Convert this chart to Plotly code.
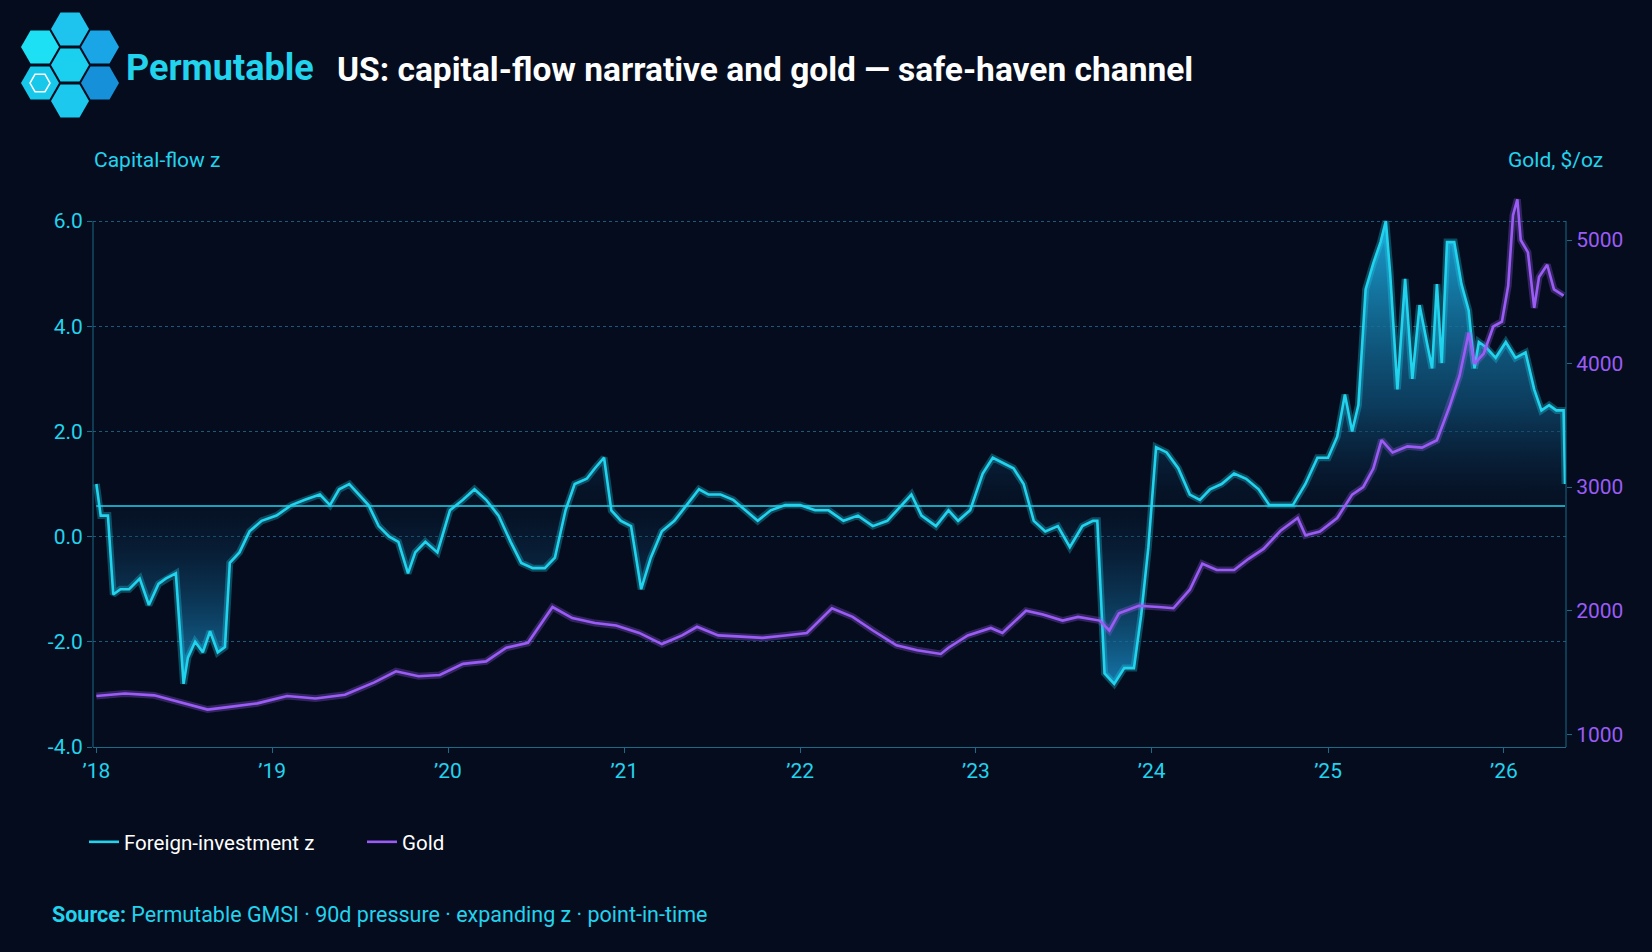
import plotly.graph_objects as go
import math

z_dates = ["2018-01-01","2018-01-10","2018-01-25","2018-02-05","2018-02-20","2018-03-10","2018-04-01","2018-04-20","2018-05-10","2018-05-25","2018-06-15","2018-07-01","2018-07-10","2018-07-25","2018-08-10","2018-08-25","2018-09-10","2018-09-25","2018-10-05","2018-10-25","2018-11-15","2018-12-10",
"2019-01-10","2019-02-10","2019-03-10","2019-04-10","2019-05-01","2019-05-20","2019-06-10","2019-07-01","2019-07-20","2019-08-10","2019-09-01","2019-09-20","2019-10-10","2019-10-25","2019-11-15","2019-12-10",
"2020-01-05","2020-02-01","2020-02-25","2020-03-20","2020-04-15","2020-05-10","2020-06-01","2020-06-25","2020-07-20","2020-08-10","2020-09-01","2020-09-20","2020-10-15","2020-11-01","2020-11-20","2020-12-05","2020-12-25",
"2021-01-15","2021-02-05","2021-02-25","2021-03-20","2021-04-15","2021-05-10","2021-06-05","2021-06-25","2021-07-20","2021-08-15","2021-09-10","2021-10-05","2021-11-01","2021-12-01",
"2022-01-01","2022-02-01","2022-03-01","2022-04-01","2022-05-01","2022-06-01","2022-07-01","2022-08-01","2022-08-20","2022-09-10","2022-10-10","2022-11-05","2022-11-25","2022-12-20",
"2023-01-15","2023-02-05","2023-02-25","2023-03-20","2023-04-10","2023-05-01","2023-05-25","2023-06-20","2023-07-15","2023-08-10","2023-09-01","2023-09-10","2023-09-25","2023-10-15","2023-11-05","2023-11-25","2023-12-10","2023-12-25",
"2024-01-10","2024-02-01","2024-02-25","2024-03-20","2024-04-10","2024-05-01","2024-05-25","2024-06-20","2024-07-15","2024-08-10","2024-09-01","2024-09-25","2024-10-20","2024-11-15","2024-12-10",
"2025-01-01","2025-01-20","2025-02-05","2025-02-20","2025-03-05","2025-03-20","2025-04-05","2025-04-20","2025-05-01","2025-05-10","2025-05-25","2025-06-10","2025-06-25","2025-07-10","2025-07-25","2025-08-05","2025-08-15","2025-08-25","2025-09-05","2025-09-20","2025-10-05","2025-10-20","2025-11-01","2025-11-10","2025-11-25","2025-12-15",
"2026-01-05","2026-01-25","2026-02-15","2026-03-05","2026-03-20","2026-04-05","2026-04-20","2026-05-05","2026-05-08"]
z_values = [1.0,0.4,0.4,-1.1,-1.0,-1.0,-0.8,-1.3,-0.9,-0.8,-0.7,-2.8,-2.3,-2.0,-2.2,-1.8,-2.2,-2.1,-0.5,-0.3,0.1,0.3,
0.4,0.6,0.7,0.8,0.6,0.9,1.0,0.8,0.6,0.2,0.0,-0.1,-0.7,-0.3,-0.1,-0.3,
0.5,0.7,0.9,0.7,0.4,-0.1,-0.5,-0.6,-0.6,-0.4,0.5,1.0,1.1,1.3,1.5,0.5,0.3,
0.2,-1.0,-0.4,0.1,0.3,0.6,0.9,0.8,0.8,0.7,0.5,0.3,0.5,0.6,
0.6,0.5,0.5,0.3,0.4,0.2,0.3,0.6,0.8,0.4,0.2,0.5,0.3,0.5,
1.2,1.5,1.4,1.3,1.0,0.3,0.1,0.2,-0.2,0.2,0.3,0.3,-2.6,-2.8,-2.5,-2.5,-1.5,-0.2,
1.7,1.6,1.3,0.8,0.7,0.9,1.0,1.2,1.1,0.9,0.6,0.6,0.6,1.0,1.5,
1.5,1.9,2.7,2.0,2.5,4.7,5.2,5.6,6.0,5.0,2.8,4.9,3.0,4.4,3.7,3.2,4.8,3.3,5.6,5.6,4.8,4.3,3.2,3.7,3.6,3.4,
3.7,3.4,3.5,2.8,2.4,2.5,2.4,2.4,1.0]

g_dates = ["2018-01-01","2018-03-01","2018-05-01","2018-07-01","2018-08-20","2018-10-01","2018-12-01","2019-02-01","2019-04-01","2019-06-01","2019-08-01","2019-09-15","2019-11-01","2019-12-15",
"2020-02-01","2020-03-20","2020-05-01","2020-06-15","2020-08-05","2020-09-15","2020-11-01","2020-12-15","2021-02-01","2021-03-20","2021-05-01","2021-06-01","2021-07-15","2021-09-01","2021-10-15","2021-12-01",
"2022-01-15","2022-03-08","2022-04-20","2022-06-01","2022-07-20","2022-09-01","2022-10-20","2022-11-05","2022-12-15","2023-02-01","2023-02-25","2023-04-15","2023-05-20","2023-06-30","2023-08-01","2023-09-15","2023-10-05","2023-10-25","2023-12-05",
"2024-01-15","2024-02-15","2024-03-20","2024-04-15","2024-05-15","2024-06-20","2024-07-20","2024-08-20","2024-09-25","2024-10-30","2024-11-15","2024-12-15",
"2025-01-20","2025-02-20","2025-03-15","2025-04-05","2025-04-22","2025-05-15","2025-06-15","2025-07-15","2025-08-15","2025-09-10","2025-10-01","2025-10-20","2025-11-01","2025-11-20","2025-12-10","2025-12-28",
"2026-01-10","2026-01-20","2026-01-29","2026-02-05","2026-02-20","2026-03-05","2026-03-15","2026-04-01","2026-04-15","2026-05-05"]
g_values = [1310,1330,1315,1250,1200,1220,1250,1310,1290,1320,1420,1510,1470,1480,
1570,1590,1700,1740,2030,1940,1900,1880,1820,1730,1800,1870,1800,1790,1780,1800,
1820,2020,1950,1840,1720,1680,1650,1700,1800,1860,1820,2000,1970,1920,1950,1920,1840,1980,2040,
2030,2020,2170,2380,2330,2330,2420,2500,2650,2750,2610,2640,
2750,2940,3000,3150,3380,3280,3330,3320,3380,3650,3900,4250,4000,4080,4300,4340,
4630,5200,5330,5000,4900,4450,4700,4800,4600,4550]

W, H = 1652, 952
L, R, T, B = 93, 86, 198, 205
BG = "#050c1d"
CYAN = "#22d3ee"
PURPLE = "#9b5cf6"
AXIS = "#1a6a88"
BASE = 0.58

def px(x): return (x - L) / (W - L - R)
def py(y): return (H - B - y) / (H - T - B)

fig = go.Figure()
fig.add_trace(go.Scatter(x=z_dates, y=[BASE]*len(z_dates), mode="lines", line=dict(width=0),
                         showlegend=False, hoverinfo="skip"))
fig.add_trace(go.Scatter(x=z_dates, y=z_values, mode="lines", fill="tonexty",
                         fillgradient=dict(type="vertical", colorscale=[
                             [0, "rgba(22,130,185,0.9)"], [0.39, "rgba(10,40,70,0.15)"],
                             [0.6, "rgba(15,80,120,0.7)"], [1, "rgba(25,160,210,1)"]]),
                         line=dict(color="rgba(34,211,238,0.3)", width=7),
                         showlegend=False, hoverinfo="skip"))
fig.add_trace(go.Scatter(x=[z_dates[0], z_dates[-1]], y=[BASE, BASE], mode="lines",
                         line=dict(color=CYAN, width=1.5), showlegend=False, hoverinfo="skip"))
fig.add_trace(go.Scatter(x=z_dates, y=z_values, mode="lines", name="Foreign-investment z",
                         line=dict(color=CYAN, width=2.6)))
fig.add_trace(go.Scatter(x=g_dates, y=g_values, mode="lines", yaxis="y2", showlegend=False,
                         line=dict(color="rgba(155,92,246,0.3)", width=7), hoverinfo="skip"))
fig.add_trace(go.Scatter(x=g_dates, y=g_values, mode="lines", yaxis="y2", name="Gold",
                         line=dict(color=PURPLE, width=2.6)))

ticks = ["2018-01-01","2019-01-01","2020-01-01","2021-01-01","2022-01-01","2023-01-01","2024-01-01","2025-01-01","2026-01-01"]
tick_labels = ["’18","’19","’20","’21","’22","’23","’24","’25","’26"]

shapes = []
hexes = [(40,47,"#1de0f5"),(40,83,"#18c8ea"),(70,29,"#1fc4ee"),(70,65,"#1ad0ee"),(70,101,"#1cc8ee"),(100,47,"#1aa6e6"),(100,83,"#1690d8")]
for cx, cy, col in hexes:
    r = 19
    pts = [(cx + r*math.cos(math.radians(a)), cy + r*math.sin(math.radians(a))) for a in range(0,360,60)]
    path = "M " + " L ".join(f"{px(x):.5f},{py(y):.5f}" for x, y in pts) + " Z"
    shapes.append(dict(type="path", xref="paper", yref="paper", path=path, fillcolor=col, line=dict(width=0)))
cx, cy, r = 40, 83, 10
pts = [(cx + r*math.cos(math.radians(a)), cy + r*math.sin(math.radians(a))) for a in range(0,360,60)]
shapes.append(dict(type="path", xref="paper", yref="paper",
                   path="M " + " L ".join(f"{px(x):.5f},{py(y):.5f}" for x, y in pts) + " Z",
                   line=dict(color="white", width=1.5)))
shapes.append(dict(type="line", xref="paper", yref="y", x0=0, x1=0, y0=-4, y1=6, line=dict(color=AXIS, width=1)))
shapes.append(dict(type="line", xref="paper", yref="y", x0=1, x1=1, y0=-4, y1=6, line=dict(color=AXIS, width=1)))

ann = [
    dict(text="<b>Permutable</b>", x=px(124), y=py(68), xref="paper", yref="paper", xanchor="left", yanchor="middle",
         showarrow=False, font=dict(size=36, color=CYAN, family="Roboto")),
    dict(text="<b>US: capital-flow narrative and gold — safe-haven channel</b>", x=px(335), y=py(70), xref="paper", yref="paper",
         xanchor="left", yanchor="middle", showarrow=False, font=dict(size=33.5, color="white", family="Roboto")),
    dict(text="Capital-flow z", x=px(92), y=py(160), xref="paper", yref="paper", xanchor="left", yanchor="middle",
         showarrow=False, font=dict(size=21, color=CYAN, family="Roboto")),
    dict(text="Gold, $/oz", x=px(1605), y=py(160), xref="paper", yref="paper", xanchor="right", yanchor="middle",
         showarrow=False, font=dict(size=21, color=CYAN, family="Roboto")),
    dict(text="<b>Source:</b> Permutable GMSI · 90d pressure · expanding z · point-in-time", x=px(50), y=py(915),
         xref="paper", yref="paper", xanchor="left", yanchor="middle", showarrow=False,
         font=dict(size=21.5, color=CYAN, family="Roboto")),
]

fig.update_layout(
    width=W, height=H, paper_bgcolor=BG, plot_bgcolor=BG,
    margin=dict(l=L, r=R, t=T, b=B), font=dict(family="Roboto", color=CYAN),
    shapes=shapes, annotations=ann,
    xaxis=dict(type="date", range=["2017-12-25", "2026-05-10"], tickvals=ticks, ticktext=tick_labels,
               showgrid=False, showline=True, linecolor=AXIS, ticks="outside", ticklen=5,
               tickcolor=AXIS, tickfont=dict(size=21, color=CYAN), zeroline=False),
    yaxis=dict(range=[-4, 6.438], tickvals=[-4,-2,0,2,4,6], ticktext=["-4.0","-2.0","0.0","2.0","4.0","6.0"],
               showgrid=True, gridcolor="#1b5a78", griddash="dot", gridwidth=1, zeroline=False,
               showline=False, ticks="outside", ticklen=5, tickcolor=AXIS,
               tickfont=dict(size=21, color=CYAN)),
    yaxis2=dict(range=[897, 5340], overlaying="y", side="right", tickvals=[1000,2000,3000,4000,5000],
                showgrid=False, zeroline=False, showline=False, ticks="outside",
                ticklen=5, tickcolor=AXIS, tickfont=dict(size=21, color=PURPLE)),
    legend=dict(orientation="h", x=px(84), y=py(842), xanchor="left", yanchor="middle", traceorder="normal",
                entrywidth=233, entrywidthmode="pixels",
                font=dict(size=20.5, color="white"), bgcolor="rgba(0,0,0,0)"),
    showlegend=True,
)
fig.write_html("out.html", config={"displayModeBar": False},
               post_script="document.body.style.margin='0';document.body.style.background='#050c1d';")
